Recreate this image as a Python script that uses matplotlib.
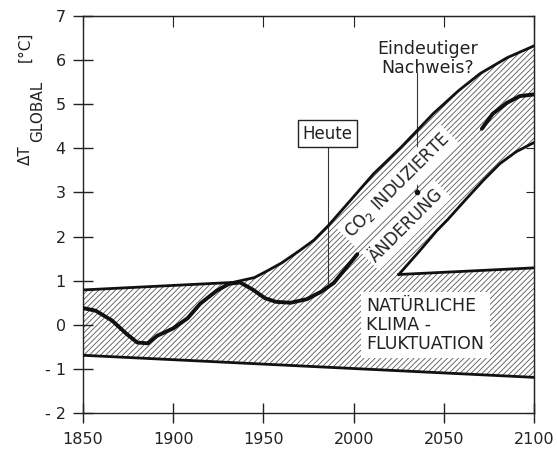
import numpy as np
import matplotlib
matplotlib.use('Agg')
import matplotlib.pyplot as plt

# natuerliche Schwankungsbreite (gerade Linien)
nat_years = [1850, 2100]
nat_up = [0.79, 1.29]
nat_low = [-0.69, -1.19]

# obere Grenze CO2-Band
co2_up_years = [1933, 1945, 1952, 1960, 1970, 1978, 1986, 1998, 2011, 2026, 2044, 2058, 2070, 2085, 2100]
co2_up = [0.96, 1.07, 1.22, 1.40, 1.68, 1.92, 2.25, 2.81, 3.42, 4.01, 4.78, 5.30, 5.69, 6.05, 6.32]

# untere Grenze CO2-Band
co2_low_years = [2025, 2036, 2046, 2052, 2063, 2072, 2081, 2090, 2100]
co2_low = [1.14, 1.65, 2.13, 2.38, 2.88, 3.28, 3.65, 3.92, 4.13]

# beobachtete Temperatur
obs_years = [1850, 1857, 1866, 1874, 1880, 1886, 1891, 1900, 1908, 1915, 1924, 1931, 1937,
             1944, 1951, 1957, 1965, 1974, 1982, 1989, 1995, 2002]
obs_t = [0.38, 0.32, 0.10, -0.20, -0.40, -0.42, -0.25, -0.08, 0.15, 0.48, 0.77, 0.93, 0.96,
         0.80, 0.60, 0.52, 0.50, 0.58, 0.75, 0.95, 1.25, 1.60]

# Fortsetzung
proj_years = [2071, 2077, 2085, 2092, 2100]
proj_t = [4.44, 4.78, 5.03, 5.18, 5.22]

xticks = [1850, 1900, 1950, 2000, 2050, 2100]
yticks = [-2, -1, 0, 1, 2, 3, 4, 5, 6, 7]
ytick_labels = ['- 2', '- 1', '0', '1', '2', '3', '4', '5', '6', '7']

plt.rcParams['font.family'] = 'DejaVu Sans'
plt.rcParams['hatch.linewidth'] = 0.6

fig = plt.figure(figsize=(5.57, 4.51), dpi=100)
ax = fig.add_axes([0.149, 0.084, 0.81, 0.881])

# schraffierte Flaeche
xs = nat_years + [nat_years[1], co2_low_years[0]] + co2_low_years[1:] + co2_up_years[::-1] + [nat_years[0]]
ys = nat_low + [nat_up[1], co2_low[0]] + co2_low[1:] + co2_up[::-1] + [nat_up[0]]
ax.fill(xs, ys, facecolor='white', edgecolor='#555555', linewidth=0, hatch='//////', zorder=1)

lc = '#111111'
ax.plot(nat_years, nat_low, color=lc, lw=2.0, zorder=3)
ax.plot([nat_years[0]] + co2_up_years, [nat_up[0]] + co2_up, color=lc, lw=2.0, zorder=3)
ax.plot([co2_low_years[0], nat_years[1]], [co2_low[0], nat_up[1]], color=lc, lw=2.0, zorder=3)
ax.plot(co2_low_years, co2_low, color=lc, lw=2.0, zorder=3)
ax.plot(obs_years, obs_t, color=lc, lw=2.8, zorder=4, solid_capstyle='round')
ax.plot(proj_years, proj_t, color=lc, lw=2.8, zorder=4, solid_capstyle='round')

tc = '#222222'

# Heute
ax.plot([1985.5, 1985.5], [0.95, 4.0], color='#333333', lw=0.8, zorder=2)
ax.text(1985.5, 4.33, 'Heute', ha='center', va='center', fontsize=12, color=tc,
        bbox=dict(boxstyle='square,pad=0.25', facecolor='white', edgecolor=tc, lw=1.0), zorder=5)

# Eindeutiger Nachweis?
ax.plot([2035, 2035], [3.0, 5.7], color='#333333', lw=0.8, zorder=2)
ax.plot([2035], [3.0], 'o', color=lc, ms=3, zorder=5)
ax.text(2041, 6.03, 'Eindeutiger\nNachweis?', ha='center', va='center', fontsize=12.5,
        color=tc, linespacing=1.05, zorder=5)

# CO2 Text
ax.text(1999.0, 1.95, 'CO$_2$ INDUZIERTE', rotation=45, rotation_mode='anchor', ha='left',
        va='baseline', fontsize=12, color=tc, zorder=5,
        bbox=dict(boxstyle='square,pad=0.2', facecolor='white', edgecolor='none'))
ax.text(2012.5, 1.40, 'ÄNDERUNG', rotation=45, rotation_mode='anchor', ha='left',
        va='baseline', fontsize=12, color=tc, zorder=5,
        bbox=dict(boxstyle='square,pad=0.2', facecolor='white', edgecolor='none'))

# Natuerliche Klimafluktuation
ax.text(2007.0, 0.0, 'NATÜRLICHE\nKLIMA -\nFLUKTUATION', ha='left', va='center', fontsize=12.5,
        color=tc, linespacing=1.05, zorder=5,
        bbox=dict(boxstyle='square,pad=0.3', facecolor='white', edgecolor='none'))

ax.set_xlim(1850, 2100)
ax.set_ylim(-2, 7)
ax.set_xticks(xticks)
ax.set_yticks(yticks)
ax.set_yticklabels(ytick_labels)
ax.tick_params(axis='both', direction='inout', length=15, width=1.0, labelsize=11.5,
               colors=tc, top=False, right=False)
ax.tick_params(axis='x', pad=6)
ax.tick_params(axis='y', pad=5)
for s in ax.spines.values():
    s.set_linewidth(1.0)
    s.set_color(tc)

top = ax.secondary_xaxis('top')
top.set_xticks(xticks)
top.tick_params(direction='in', length=8, labeltop=False, colors=tc)
right = ax.secondary_yaxis('right')
right.set_yticks(yticks)
right.tick_params(direction='in', length=6, labelright=False, colors=tc)

# y-Achsenbeschriftung
fig.text(25 / 557, 1 - 155 / 451, 'ΔT', rotation=90, ha='center', va='center', fontsize=11, color=tc)
fig.text(38 / 557, 1 - 111 / 451, 'GLOBAL', rotation=90, ha='center', va='center', fontsize=11, color=tc)
fig.text(25 / 557, 1 - 47 / 451, '[°C]', rotation=90, ha='center', va='center', fontsize=11, color=tc)

fig.savefig('out.png', dpi=100)
